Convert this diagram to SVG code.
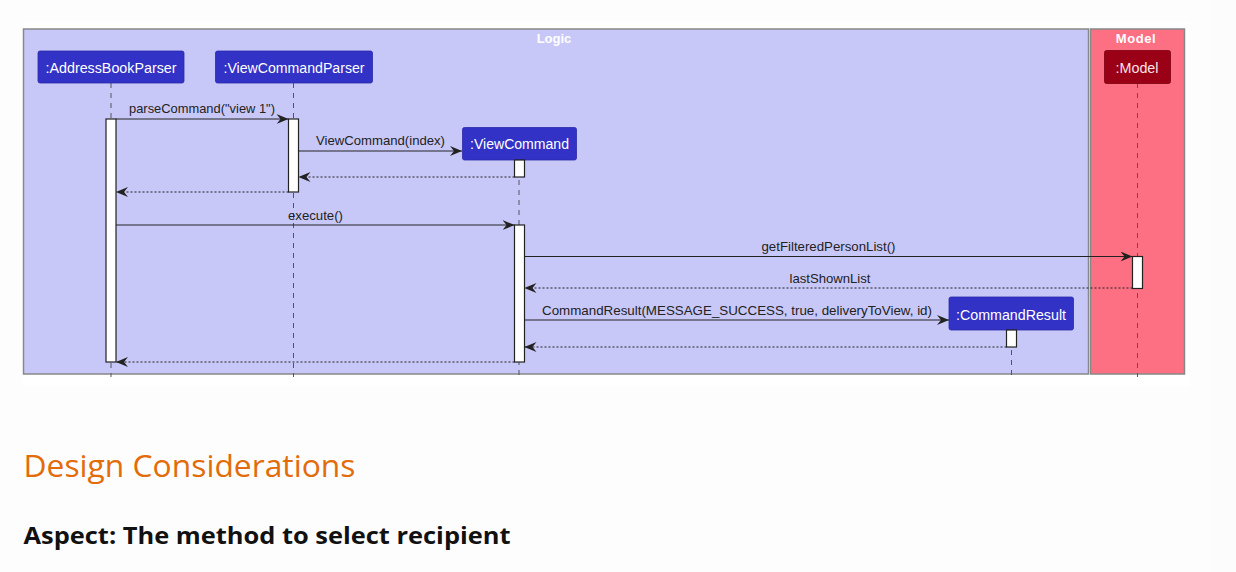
<svg xmlns="http://www.w3.org/2000/svg" width="1236" height="572" viewBox="0 0 1236 572">
<defs>
<style>
.part{fill:#3232C6;stroke:#2a2aa8;stroke-width:0.8}
.ptxt{fill:#ffffff;font-family:"Liberation Sans",Arial,sans-serif;font-size:14px;text-anchor:middle}
.msg{fill:#222222;font-family:"Liberation Sans",Arial,sans-serif;font-size:13px;text-anchor:middle}
.life{stroke:#555555;stroke-width:1;stroke-dasharray:5,5;fill:none}
.act{fill:#ffffff;stroke:#222222;stroke-width:1.2}
.call{stroke:#222222;stroke-width:1.1;fill:none}
.ret{stroke:#222222;stroke-width:1.1;stroke-dasharray:2,2;fill:none}
.frame{font-family:"Liberation Sans",Arial,sans-serif;font-size:13px;font-weight:bold;fill:#ffffff;text-anchor:middle}
</style>
<marker id="ah" viewBox="0 0 12 10" refX="12" refY="5" markerWidth="12" markerHeight="10" markerUnits="userSpaceOnUse" orient="auto">
<path d="M0,0 L12,5 L0,10 L4,5 Z" fill="#222222"/>
</marker>
</defs>
<rect x="0" y="0" width="1236" height="572" fill="#fcfcfc"/>
<rect x="0" y="0" width="1213" height="572" fill="#fdfdfd"/>
<rect x="22" y="22" width="1167" height="364" fill="#ffffff"/>

<g id="frame-logic">
<rect x="23.5" y="29" width="1065" height="345" fill="#C8C8F8" stroke="#888888" stroke-width="1.5"/>
<text class="frame" x="554" y="43">Logic</text>
</g>
<g id="frame-model">
<rect x="1090.5" y="29" width="94" height="345" fill="#FD7083" stroke="#888888" stroke-width="1.5"/>
<text class="frame" x="1136" y="43" letter-spacing="0.6">Model</text>
</g>

<g id="lifelines">
<line class="life" x1="111" y1="83" x2="111" y2="377"/>
<line class="life" x1="293.5" y1="83" x2="293.5" y2="377"/>
<line class="life" x1="519" y1="160" x2="519" y2="377"/>
<line class="life" x1="1011.5" y1="330" x2="1011.5" y2="377"/>
<line class="life" x1="1137.5" y1="83" x2="1137.5" y2="377" stroke="#8a3040"/>
</g>

<g id="AddressBookParser">
<rect class="part" x="38" y="51" width="146" height="32" rx="2"/>
<text class="ptxt" x="111" y="72.5" textLength="131" lengthAdjust="spacingAndGlyphs">:AddressBookParser</text>
<rect class="act" x="106" y="119" width="10" height="243"/>
</g>
<g id="ViewCommandParser">
<rect class="part" x="215.5" y="51" width="157" height="32" rx="2"/>
<text class="ptxt" x="294" y="72.5" textLength="141" lengthAdjust="spacingAndGlyphs">:ViewCommandParser</text>
<rect class="act" x="288.5" y="119" width="10" height="73"/>
</g>
<g id="ViewCommand">
<rect class="part" x="462.5" y="127.5" width="114" height="32.5" rx="2"/>
<text class="ptxt" x="519.5" y="149" textLength="99" lengthAdjust="spacingAndGlyphs">:ViewCommand</text>
<rect class="act" x="514.5" y="160" width="10" height="17"/>
<rect class="act" x="514.5" y="225" width="10" height="137"/>
</g>
<g id="CommandResult">
<rect class="part" x="949" y="297" width="124.5" height="33" rx="2"/>
<text class="ptxt" x="1011" y="319.5" textLength="110" lengthAdjust="spacingAndGlyphs">:CommandResult</text>
<rect class="act" x="1006.5" y="330" width="10" height="17"/>
</g>
<g id="Model">
<rect x="1104.5" y="50.5" width="66" height="33" rx="2" fill="#9A0016" stroke="#7a0010" stroke-width="0.8"/>
<text class="ptxt" x="1137" y="72.5" fill="#fde" style="fill:#FBE3E6" textLength="43" lengthAdjust="spacingAndGlyphs">:Model</text>
<rect class="act" x="1132.5" y="256.5" width="10" height="32"/>
</g>

<g id="connectors">
<line class="call" x1="116" y1="119" x2="288.5" y2="119" marker-end="url(#ah)"/>
<text class="msg" x="202" y="113" textLength="146" lengthAdjust="spacingAndGlyphs">parseCommand("view 1")</text>

<line class="call" x1="298.5" y1="151" x2="462" y2="151" marker-end="url(#ah)"/>
<text class="msg" x="380.5" y="145" textLength="129" lengthAdjust="spacingAndGlyphs">ViewCommand(index)</text>

<line class="ret" x1="514.5" y1="177" x2="298.5" y2="177" marker-end="url(#ah)"/>
<line class="ret" x1="288.5" y1="192" x2="116" y2="192" marker-end="url(#ah)"/>

<line class="call" x1="116" y1="225" x2="514.5" y2="225" marker-end="url(#ah)"/>
<text class="msg" x="315.5" y="219.5" textLength="55" lengthAdjust="spacingAndGlyphs">execute()</text>

<line class="call" x1="524.5" y1="256.5" x2="1132.5" y2="256.5" marker-end="url(#ah)"/>
<text class="msg" x="828.5" y="251" textLength="134" lengthAdjust="spacingAndGlyphs">getFilteredPersonList()</text>

<line class="ret" x1="1132.5" y1="288" x2="524.5" y2="288" marker-end="url(#ah)"/>
<text class="msg" x="830" y="282.5" textLength="81" lengthAdjust="spacingAndGlyphs">lastShownList</text>

<line class="call" x1="524.5" y1="320" x2="949" y2="320" marker-end="url(#ah)"/>
<text class="msg" x="737" y="315" textLength="390" lengthAdjust="spacingAndGlyphs">CommandResult(MESSAGE_SUCCESS, true, deliveryToView, id)</text>

<line class="ret" x1="1006.5" y1="347" x2="524.5" y2="347" marker-end="url(#ah)"/>
<line class="ret" x1="514.5" y1="362" x2="116" y2="362" marker-end="url(#ah)"/>
</g>

<text x="23.5" y="477" fill="#E36C0A" font-family="'Open Sans','Noto Sans',sans-serif" font-size="31" textLength="332" lengthAdjust="spacingAndGlyphs">Design Considerations</text>
<text x="23.5" y="544" fill="#111111" font-family="'Open Sans','Noto Sans',sans-serif" font-size="23" font-weight="bold" textLength="487" lengthAdjust="spacingAndGlyphs">Aspect: The method to select recipient</text>
</svg>
